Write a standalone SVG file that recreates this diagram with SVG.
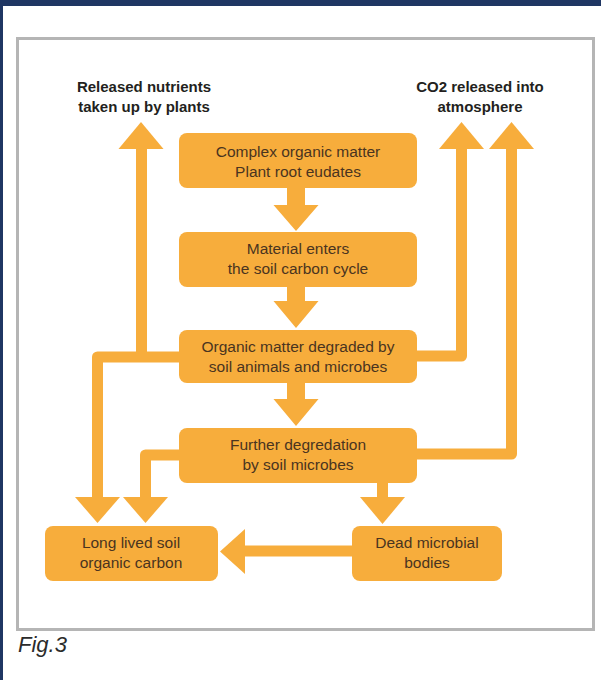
<svg xmlns="http://www.w3.org/2000/svg" width="601" height="680" viewBox="0 0 601 680">
<style>
.box{fill:#F7AD3C}
.bt{font-family:"Liberation Sans",Arial,sans-serif;font-size:15.5px;fill:#4a3420;text-anchor:middle}
.lbl{font-family:"Liberation Sans",Arial,sans-serif;font-size:15px;font-weight:bold;fill:#231f20;text-anchor:middle}
.ln{fill:none;stroke:#F7AD3C;stroke-width:11;stroke-linejoin:round}
.hd{fill:#F7AD3C}
</style>
<rect x="0" y="0" width="601" height="680" fill="#ffffff"/>
<rect x="0" y="0" width="601" height="6" fill="#1f3663"/>
<rect x="0" y="0" width="3" height="680" fill="#1f3663"/>
<rect x="17.5" y="38.5" width="576" height="591" fill="none" stroke="#b5b5b5" stroke-width="3"/>

<g id="connectors">
  <polygon class="hd" points="287,186 305,186 305,205 318.5,205 296,231 273.5,205 287,205"/>
  <polygon class="hd" points="287,285 305,285 305,301 318.5,301 296,328 273.5,301 287,301"/>
  <polygon class="hd" points="287,381 305,381 305,399 318.5,399 296,426 273.5,399 287,399"/>
  <path class="ln" d="M141.5 148 V357"/>
  <polygon class="hd" points="118.5,149 163.5,149 141,122"/>
  <path class="ln" d="M181 357 H97.5 V499"/>
  <polygon class="hd" points="75,497 120,497 97.5,523"/>
  <path class="ln" d="M181 455 H145.5 V499"/>
  <polygon class="hd" points="123,497 168,497 145.5,523"/>
  <path class="ln" d="M415 356 H461.5 V148"/>
  <polygon class="hd" points="439,149 484,149 461.5,122"/>
  <path class="ln" d="M415 454 H511.5 V148"/>
  <polygon class="hd" points="489,149 534,149 511.5,122"/>
  <path class="ln" d="M382.5 481 V499"/>
  <polygon class="hd" points="360,497 405,497 382.5,524"/>
  <path class="ln" d="M354 551 H243"/>
  <polygon class="hd" points="245,529 245,574 220,551.5"/>
</g>

<g id="label-nutrients">
  <text class="lbl" x="144" y="92">Released nutrients</text>
  <text class="lbl" x="144" y="112">taken up by plants</text>
</g>
<g id="label-co2">
  <text class="lbl" x="480" y="92">CO2 released into</text>
  <text class="lbl" x="480" y="112">atmosphere</text>
</g>

<g id="node-complex">
  <rect class="box" x="179" y="133" width="238" height="55" rx="8"/>
  <text class="bt" x="298" y="157">Complex organic matter</text>
  <text class="bt" x="298" y="177">Plant root eudates</text>
</g>
<g id="node-material">
  <rect class="box" x="179" y="232" width="238" height="55" rx="8"/>
  <text class="bt" x="298" y="254">Material enters</text>
  <text class="bt" x="298" y="274">the soil carbon cycle</text>
</g>
<g id="node-degraded">
  <rect class="box" x="179" y="330" width="238" height="53" rx="8"/>
  <text class="bt" x="298" y="352">Organic matter degraded by</text>
  <text class="bt" x="298" y="372">soil animals and microbes</text>
</g>
<g id="node-further">
  <rect class="box" x="179" y="428" width="238" height="55" rx="8"/>
  <text class="bt" x="298" y="450">Further degredation</text>
  <text class="bt" x="298" y="470">by soil microbes</text>
</g>
<g id="node-longlived">
  <rect class="box" x="45" y="526" width="173" height="55" rx="8"/>
  <text class="bt" x="131" y="548">Long lived soil</text>
  <text class="bt" x="131" y="568">organic carbon</text>
</g>
<g id="node-dead">
  <rect class="box" x="352" y="526" width="150" height="55" rx="8"/>
  <text class="bt" x="427" y="548">Dead microbial</text>
  <text class="bt" x="427" y="568">bodies</text>
</g>

<text x="18" y="652" font-family="'Liberation Sans',Arial,sans-serif" font-style="italic" font-size="22" fill="#2b2b2b">Fig.3</text>
</svg>
